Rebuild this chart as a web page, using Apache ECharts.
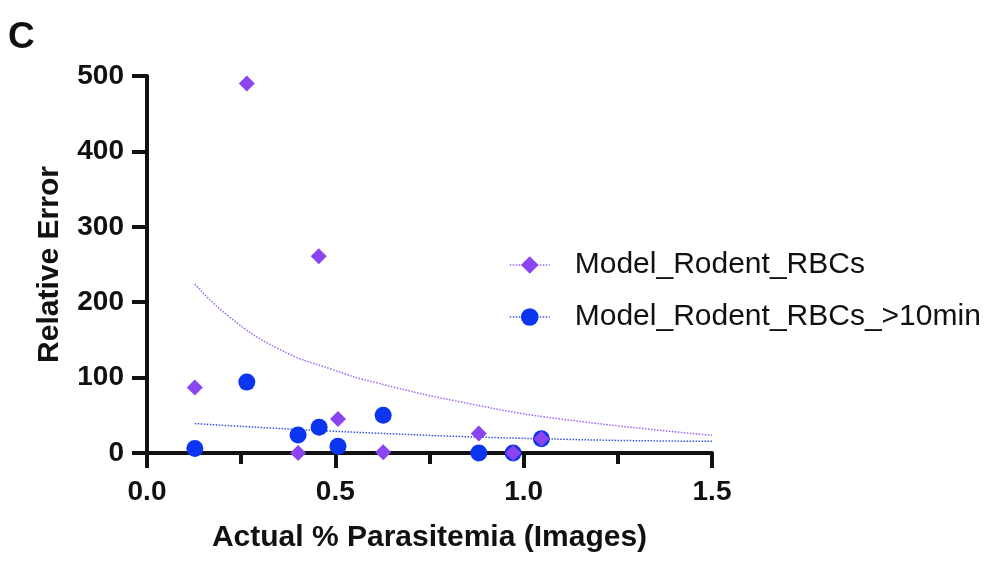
<!DOCTYPE html>
<html>
<head>
<meta charset="utf-8">
<script src="https://cdn.jsdelivr.net/npm/echarts@6/dist/echarts.min.js"></script>
<style>
  html, body { margin: 0; padding: 0; background: #fff; }
  #chart { width: 997px; height: 571px; }
</style>
</head>
<body>
<div id="chart"></div>
<script>
// measured points (x = actual % parasitemia, y = relative error)
var rbcX = [0.127, 0.265, 0.401, 0.456, 0.507, 0.627, 0.881, 0.972, 1.047]
var rbcY = [87, 490, 0, 261, 45, 1, 26, 0, 19]
var rbc10X = [0.127, 0.265, 0.401, 0.457, 0.507, 0.627, 0.881, 0.972, 1.047]
var rbc10Y = [6, 94, 24, 34, 9, 50, 0, 0, 19]

// fitted curves
var fitRbcX = [0.127, 0.22, 0.35, 0.49, 0.61, 0.86, 1.1, 1.5]
var fitRbcY = [224, 180, 138, 111, 93, 65, 45, 23.5]
var fitRbc10X = [0.127, 0.6, 1.12, 1.5]
var fitRbc10Y = [39, 26.5, 18, 15.5]

var xTicks = [0, 0.5, 1.0, 1.5]
var yTicks = [0, 100, 200, 300, 400, 500]

var purple = '#8a44f0'
var blue = '#0b35ef'
var font = '"Liberation Sans", Arial, Helvetica, sans-serif'

function pairs(xs, ys) {
    return xs.map(function (x, i) { return [x, ys[i]] })
}

var dom = document.getElementById('chart')
var myChart = echarts.init(dom, null, { renderer: 'canvas' })
var option = {
    animation: false,
    backgroundColor: '#fff',
    title: {
        text: 'C',
        left: 3,
        top: 14,
        textStyle: { fontFamily: font, fontWeight: 'bold', fontSize: 37, color: '#111' }
    },
    legend: {
        orient: 'vertical',
        left: 504,
        top: 245,
        itemWidth: 40,
        itemHeight: 22,
        itemGap: 22,
        data: ['Model_Rodent_RBCs', 'Model_Rodent_RBCs_>10min'],
        lineStyle: { type: 'dotted', width: 1.5, opacity: 1 },
        textStyle: { fontFamily: font, fontSize: 30, color: '#111', padding: [0, 0, 0, 20] }
    },
    grid: { left: 147, right: 285, top: 76, bottom: 118, containLabel: false },
    xAxis: {
        type: 'value',
        min: xTicks[0],
        max: xTicks[xTicks.length - 1],
        interval: 0.5,
        name: 'Actual % Parasitemia (Images)',
        nameLocation: 'middle',
        nameGap: 70,
        nameTextStyle: { fontFamily: font, fontWeight: 'bold', fontSize: 30, color: '#111' },
        axisLine: { onZero: false, lineStyle: { color: '#111', width: 4 } },
        axisTick: { length: 15, lineStyle: { width: 4, color: '#111' } },
        minorTick: { show: true, splitNumber: 2, length: 11, lineStyle: { width: 4, color: '#111' } },
        axisLabel: {
            margin: 25, fontFamily: font, fontWeight: 'bold', fontSize: 28, color: '#111',
            formatter: function (v) { return v.toFixed(1) }
        },
        splitLine: { show: false }
    },
    yAxis: {
        type: 'value',
        min: yTicks[0],
        max: yTicks[yTicks.length - 1],
        interval: 100,
        name: 'Relative Error',
        nameLocation: 'middle',
        nameGap: 82,
        nameTextStyle: { fontFamily: font, fontWeight: 'bold', fontSize: 30, color: '#111' },
        axisLine: { show: true, onZero: false, lineStyle: { color: '#111', width: 4 } },
        axisTick: { show: true, length: 15, lineStyle: { width: 4, color: '#111' } },
        axisLabel: { margin: 23, fontFamily: font, fontWeight: 'bold', fontSize: 28, color: '#111' },
        splitLine: { show: false }
    },
    series: [
        {
            name: 'fitRbc',
            type: 'line',
            smooth: true,
            symbol: 'none',
            silent: true,
            data: pairs(fitRbcX, fitRbcY),
            lineStyle: { color: '#9b66f2', width: 1.5, type: 'dotted' },
            z: 2
        },
        {
            name: 'fitRbc10',
            type: 'line',
            smooth: true,
            symbol: 'none',
            silent: true,
            data: pairs(fitRbc10X, fitRbc10Y),
            lineStyle: { color: '#3a55e6', width: 1.5, type: 'dotted' },
            z: 2
        },
        {
            name: 'Model_Rodent_RBCs_>10min',
            type: 'line',
            symbol: 'circle',
            symbolSize: 17,
            showAllSymbol: true,
            data: pairs(rbc10X, rbc10Y),
            itemStyle: { color: blue },
            lineStyle: { color: '#3a55e6', opacity: 0 },
            z: 3
        },
        {
            name: 'Model_Rodent_RBCs',
            type: 'line',
            symbol: 'diamond',
            symbolSize: 16,
            showAllSymbol: true,
            data: pairs(rbcX, rbcY),
            itemStyle: { color: purple },
            lineStyle: { color: '#9b66f2', opacity: 0 },
            z: 4
        }
    ]
}
myChart.setOption(option, true)
</script>
</body>
</html>
